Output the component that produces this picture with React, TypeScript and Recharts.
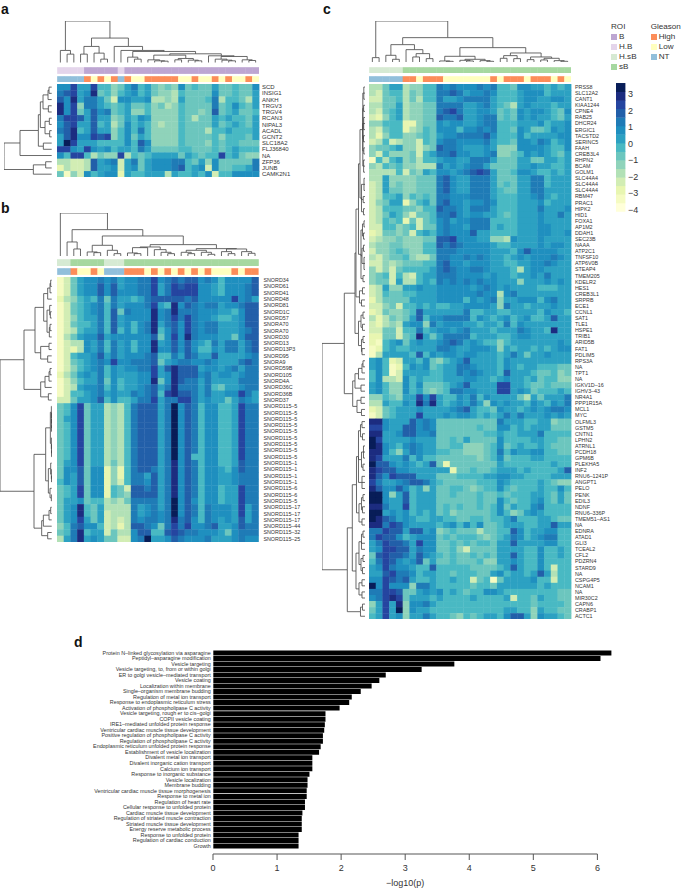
import { BarChart, Bar, ScatterChart, Scatter, XAxis, YAxis } from "recharts";

// colour steps of the heatmaps, lowest to highest (one per level char 0-e)
const heatColors = ["#ffffd9", "#f5fbc2", "#e8f6b1", "#d2edb4", "#b2e1b6", "#8fd3ba", "#6cc6be", "#49b9c3", "#2ca1c2", "#1f8fbf", "#1f7bb6", "#225fa9", "#2545a0", "#1c2c80", "#081d58"];
const LEVELS = "0123456789abcde";

const roiColors: Record<string, string> = { B: "#bda6d2", HB: "#e4d5eb", HsB: "#d6ead3", sB: "#a6d8a0" };
const gleasonColors: Record<string, string> = { High: "#fc8d59", Low: "#ffffbf", NT: "#91bfdb" };

// each row: 30 level chars, spaces only group them by ten
const rowsA = [
  "99c88c7756 8a78656596 7668667669",
  "abc89d6757 8978655476 6669667668",
  "b9d8aa8639 9889445486 667a477648",
  "d9c5aa8767 8667564576 666a679768",
  "d9c68b9a67 8557555576 656b678667",
  "accb8b8856 8798555576 4668787768",
  "9bc88b7846 9787545576 6668678768",
  "abd78b8857 97a7555576 6647787778",
  "8bd99cbc57 9687555576 6667577768",
  "8ec8887777 97b9555576 6657677666",
  "cc98c98978 87a8666677 6667678777",
  "97cc74655c 4767888868 7677c78655",
  "44334b89a3 8a68999aa7 685966666a",
  "24334b8893 8968999ab7 893966778a",
  "6153978992 8778884877 8793779999",
];
const labelsA = ["SCD", "INSIG1", "ANKH", "TRGV3", "TRGV4", "RCAN3", "NIPAL3", "ACADL", "GCNT2", "SLC18A2", "FLJ36840", "NA", "ZFP36", "JUNB", "CAMK2N1"];
const roiA = ["HB", "HB", "HB", "HB", "B", "B", "B", "B", "B", "HB", ...Array(20).fill("B")];
const gleasonA = ["NT", "NT", "NT", "NT", "High", "Low", "High", "Low", "High", "NT", "High", "Low", "Low", "High", "High", "High", "High", "High", "Low", "Low", "High", "Low", "Low", "High", "Low", "High", "Low", "Low", "High", "Low"];

const rowsB = [
  "136899a9a8 99aac9abab b9a979999b",
  "136899b9b8 99aac8acbc c9987999ab",
  "136899b9b9 99aac8accc c9987999ab",
  "245787a6a8 878abbbbba b99999c9a8",
  "136789a7a8 999ac87d9b a9aa899abb",
  "136789a7b6 a999d9adaa a9998879bb",
  "135788a7b8 9999d9acac a9987789bb",
  "136778a7b8 979ad8ab9c a9aa8889bb",
  "134788a7b7 979ad79b9c a9aa8889ab",
  "146899b899 9999b69c9d a9998869bb",
  "134498a7a8 9799d89b9b 987a8aa8ab",
  "132498a7a8 9799d99b9b 97798aa8ab",
  "137889b8a8 999ab77a8b a88b88889a",
  "136789a9c9 9aaab689aa 99a9888aba",
  "135789a798 99aac8bdbb b89989a8aa",
  "246898a798 8899c89dbb b9a89989aa",
  "135788a697 8899d69dba a8a8888aaa",
  "134899a797 889ab8adaa a8a76889aa",
  "137789a898 8a9ab7cdbb a8a8899ca8",
  "336889b797 78aac8aacc a898868a98",
  "679c688454 7abbb8ae9b a799778caa",
  "679c688454 7abbb8ae9b a799778caa",
  "689c688454 7abbb8ae9b a799778caa",
  "679c688454 7abbb8ae9b a799778caa",
  "679c688454 7abbb8ae9b a799778caa",
  "679c688454 7abbb8ae9b a799778caa",
  "679c688454 7abbb8ae9b a799778caa",
  "679c688454 7abbb8ae9b a799778caa",
  "679c688454 7abbb8ae9b 7799778caa",
  "689c688464 7abbb8ad9b a799778baa",
  "699b699252 7abba8ad9b a799879baa",
  "698b699252 7aa8b8ad9b a799889aaa",
  "798b699253 7aa9b8ad9b a799889aaa",
  "678c699276 3bbab8ad9b a799788caa",
  "678c699276 5bbbb8ad9b a799788caa",
  "6889677454 6aaaa8ae9b 9799788caa",
  "689d768444 4a89a8ae9b a7a9998c8a",
  "689d768344 4a89a9ae9b a7a9998c8a",
  "689c868343 4a9aa9adab 97a9898b8a",
  "57ab997342 4bba96acac 99ab889baa",
  "67ad788364 49bb77bcba a999869aaa",
  "48ad898663 39ae889ba9 99a8889a99",
];
const labelsB = ["SNORD34", "SNORD61", "SNORD41", "SNORD48", "SNORD81", "SNORD1C", "SNORD57", "SNORA70", "SNORA70", "SNORD30", "SNORD13", "SNORD13P3", "SNORD95", "SNORA9", "SNORD59B", "SNORD105", "SNORD4A", "SNORD36C", "SNORD36B", "SNORD37", "SNORD115–5", "SNORD115–5", "SNORD115–5", "SNORD115–5", "SNORD115–5", "SNORD115–5", "SNORD115–5", "SNORD115–5", "SNORD115–5", "SNORD115–1", "SNORD115–1", "SNORD115–1", "SNORD115–1", "SNORD115–6", "SNORD115–6", "SNORD115–5", "SNORD115–17", "SNORD115–17", "SNORD115–17", "SNORD115–44", "SNORD115–32", "SNORD115–25"];
const roiB = ["HsB", "HsB", "sB", "sB", "sB", "sB", "sB", "HsB", "HsB", "HsB", ...Array(20).fill("sB")];
const gleasonB = ["NT", "NT", "High", "Low", "Low", "High", "Low", "NT", "NT", "NT", "High", "High", "High", "Low", "High", "Low", "High", "Low", "High", "Low", "High", "Low", "High", "Low", "Low", "Low", "High", "Low", "High", "High"];

const rowsC = [
  "4468845577 a9a999a9a7 7699887878",
  "4367746577 aaba899a97 7789997888",
  "3366746477 a889aaaa87 7789988998",
  "4466845566 aaaa889a87 6489888788",
  "4367845566 abca889986 7698998769",
  "3257845566 baab889aa6 7698988768",
  "5577722566 9899889aa7 7788897889",
  "4367724576 999799a9a7 7698667989",
  "4257755676 899aaaab97 7797888899",
  "3473455376 9aa9999a87 76998a9789",
  "5667855356 baa9888985 5599998779",
  "5375556378 aab99889a5 5679898768",
  "1747856477 89988aaa86 6688668878",
  "5476755444 a8989aa866 6688988778",
  "4444736587 9989abcb86 6799877878",
  "4485555666 ab988aaa86 6688aa7888",
  "3485655666 ab988aaa86 7688aa7888",
  "3486655666 ab988aaa87 6688aa8888",
  "3477857676 aa999aaa87 77889a8788",
  "3568825786 ab99899a97 7788897888",
  "3477766577 baa98aaa87 77888a8889",
  "3468753667 aab9899887 67888988a8",
  "3476726367 9a899aaa77 7788898888",
  "3377567366 9a998aaa78 7788899888",
  "2366563787 9a999b8877 7788899889",
  "3455655566 bbc9998855 4988898888",
  "4556655577 baba999987 7888898998",
  "3556765577 aaa9999988 879b999988",
  "4356675446 aa99a9a988 7898999a98",
  "3354566677 ab99899988 778899a988",
  "5353677778 aba99aa988 8748998888",
  "5673743788 aaa9999898 878898a888",
  "5663844787 a9a9a9a998 8858889898",
  "3485588988 9999989a98 9888877788",
  "3476677888 999999a994 9a88888888",
  "2466668888 99997989a5 8899979a88",
  "3356377878 7788999985 a887888988",
  "2365567b88 8888a77887 7888879887",
  "4246568b79 9aaaa79878 9789778b88",
  "324548995a 8999887887 a798888888",
  "3366377a78 9989a88878 88a9887d88",
  "2266367d86 8aaaa78887 7899888888",
  "2178968988 9aba898775 7888888898",
  "1278778888 aa98899985 8788787899",
  "1488887b79 8998998887 8a86889888",
  "8972388796 5789b88887 9888888888",
  "8971279896 788aa98887 9878877766",
  "7971388887 788a9a9887 b888766756",
  "7944397877 7888998878 9887867755",
  "8975597966 6789b8888c c887667666",
  "8975597865 67aa99888c c898677787",
  "5576588c9c 87798a7988 886486888a",
  "4487798dad 87898a8598 988798798a",
  "2367888988 889ab87769 8878989aa9",
  "1367888c88 8989987878 a8a8889898",
  "dd9888b9a9 666666666a 8887788566",
  "cc988bb9a9 6666667669 9787888666",
  "dd889bb99a 6666666778 77888a7777",
  "ec88889888 6676866669 7777887766",
  "ed9879a988 6677555679 6787787666",
  "dd9758a988 776655567a 7988997766",
  "dc888a7977 6666665679 6777887777",
  "ebb989878b 6266666668 7777777877",
  "dcbb998888 8826676678 887877778b",
  "db9cbbb888 6667777889 9887777888",
  "ca889abba8 7666667779 8777787655",
  "db99b97858 6677656779 7677787797",
  "ee958b7888 6676667667 6777887686",
  "ee988b7888 6666667669 7677897686",
  "dda88c7888 6767667679 68779a7777",
  "ee89897878 6756666679 7568987777",
  "edba898778 8776677677 8a77788766",
  "ddacb98888 7897979667 8887788b88",
  "aacbb8bb89 5676664667 7b97889977",
  "acbb978999 6767776567 8a9789aa77",
  "8acbba8c99 6676767768 8b88889977",
  "89ccbb8a99 6675366668 8887797787",
  "6bcbba8b98 7676676768 8b87797787",
  "7acb989b68 6676667558 8987797777",
  "89ca99877b 7777766667 8b87797377",
  "88bcaa9788 7767776689 78878b8477",
  "99cbab8778 7787736716 8888977377",
  "e9c9995aa8 7777767768 8888878777",
  "aaccb66898 9787677998 7777777766",
  "9acdc68887 8777787777 8377687766",
  "58c8d599a8 7777777777 7777677776",
  "68c8e59887 7777777777 8877587766",
  "78c89588a8 7765767887 9bb8598876",
];
const labelsC = ["PRSS8", "SLC12A2", "CANT1", "KIAA1244", "CPNE4", "RAB25", "DHCR24", "ERGIC1", "TACSTD2", "SERINC5", "FAAH", "CREB3L4", "RHPN2", "BCAM", "GOLM1", "SLC44A4", "SLC44A4", "SLC44A4", "RBM47", "PRAC1", "HIPK2", "HID1", "FOXA1", "AP1M2", "DDAH1", "SEC23B", "NAAA", "ATP2C1", "TNFSF10", "ATP6V0B", "STEAP4", "TMEM205", "KDELR2", "HES1", "CREB3L1", "SRPRB", "ECE1", "CCNL1", "SAT1", "TLE1", "HSPE1", "TRIB1", "ARID5B", "FAT1", "PDLIM5", "RPS3A", "NA", "TPT1", "NA", "IGKV1D–16", "IGHV3–43", "NR4A1", "PPP1R15A", "MCL1", "MYC", "OLFML3", "GSTM5", "CNTN1", "LPHN2", "ATRNL1", "PCDH18", "GPM6B", "PLEKHA5", "INF2", "RNU6–1241P", "ANGPT1", "PELO", "PENK", "EDIL3", "NDNF", "RNU6–336P", "TMEM51–AS1", "NA", "EDNRA", "ATAD1", "GLI3", "TCEAL2", "CFL2", "PDZRN4", "STARD9", "NA", "CSPG4P5", "NCAM1", "NA", "MIR30C2", "CAPN6", "CRABP1", "ACTC1"];
const roiC = [...Array(5).fill("HsB"), ...Array(25).fill("sB")];
const gleasonC = ["NT", "NT", "NT", "NT", "NT", "High", "High", "Low", "High", "High", "High", "Low", "Low", "Low", "Low", "Low", "Low", "Low", "High", "Low", "High", "High", "High", "Low", "High", "High", "High", "Low", "High", "Low"];

// dendrograms: [merge height, ...children], 0 is a leaf
type Tree = 0 | [number, ...any[]];

const topA: Tree = [124,
  [36, 0, [25, 0, 0]],
  [73,
    [48, [25, 0, 0], [28, 0, [10, 0, 0]]],
    [48, 0, [36, 0, [33, [16, 0, [10, 0, 0]],
      [26,
        [22, [8, 0, [5, 0, [4, 0, 0]]], [12, [8, 0, 0], [7, 0, [5, 0, 0]]]],
        [20, 0, [18, [10, 0, [7, 0, [5, 0, 0]]], [8, 0, [6, 0, 0]]]],
      ]]]],
  ]];
const leftA: Tree = [143,
  [95,
    [40,
      [34, [26, [11, [8, 0, 0], 0], [10, 0, 0]], [20, [7, 0, 0], [6, 0, 0]]],
      [25, 0, 0]],
    0],
  [55, [18, 0, 0], 0]];

const topB: Tree = [130, 0,
  [80,
    [43, 0, [22, 0, 0]],
    [61,
      [33, [13, 0, [11, 0, 0]], [18, 0, [8, 0, 0]]],
      [35,
        [28, [26, [10, 0, [8, 0, 0]], 0], [20, 0, [12, 0, [8, 0, 0]]]],
        [23, [18, [12, 0, [8, 0, 0]], [12, 0, [6, 0, 0]]], [22, [14, 0, [8, 0, 0]], [14, 0, [9, 0, 0]]]],
      ]],
  ]];
const leftB: Tree = [155,
  [83,
    [50,
      [24, [12, [5, [3, 0, 0], 0], 0], [14, [6, 0, [4, 0, 0]], [7, [5, 0, 0], 0]]],
      [33, [8, 0, 0], [12, 0, 0]]],
    [33, [20, [8, [5, 0, 0], 0], 0], [10, 0, 0]]],
  [53,
    [18,
      [4, [1, 0, [0.6, 0, [0.5, 0, [0.4, 0, 0]]]], [1, 0, [0.6, 0, [0.5, 0, 0]]]],
      [10, [3, 0, [1, 0, [0.5, 0, 0]]], [5, 0, [1, 0, 0]]]],
    [30, [25, [8, [3, 0, 0], 0], 0], [12, 0, 0]]]];

const topC: Tree = [124,
  [14, 0, 0],
  [74,
    [53, [21, 0, [9, 0, 0]], [38, 0, [26, [16, 0, 0], [11, 0, 0]]]],
    [44,
      [18, [4, 0, [3, 0, 0]], [9, [6, 0, [4, 0, 0]], [5, 0, [3, 0, 0]]]],
      [28, [20, [12, 0, 0], [11, 0, 0]], [16, [8, 0, 0], [12, [7, 0, 0], [5, 0, [3, 0, 0]]]]]],
  ]];
const clusterC0: Tree = [2.2, [1.2, 0, 0, 0], [1.4, 0, 0], [1.3, 0, 0, 0], [1.5, 0, 0], [1.2, 0, 0], [1.4, 0, 0, 0]];
const clusterC1: Tree = [3.5, [1, 0, 0, 0], [1.8, 0, 0], [1.5, 0, 0]];
const clusterC2: Tree = [4, [2.5, [1, 0, 0], [1.5, 0, 0]], [3, [1.5, 0, 0], [1, 0, 0, 0]], [2, 0, 0]];
const leftC: Tree = [43,
  [20.7,
    [10,
      [9, [6.5, [5, clusterC0, clusterC1], clusterC2], [5.5, [2.5, 0, 0], [3.5, 0, 0]]],
      [6.5, [4, [2, 0, 0], [2.5, 0, 0]], [3.5, [2, 0, 0], [3, 0, 0]]]],
    [12.3,
      [10, [6.5, [3, [2, 0, 0], 0], 0], [4, 0, 0]],
      [8, [4, 0, 0], [3.5, 0, 0]]]],
  [17.7,
    [12.7,
      [8.5,
        [6.5, [4.5, [3, 0, 0], [2.5, 0, 0]], [3.5, [1.5, 0, 0, 0], [2, 0, 0]], [3, 0, 0, 0]],
        [6, [3.5, [2, 0, 0], [2.5, 0, 0]], [3, 0, 0]]],
      [9,
        [6, [3.5, [2, 0, 0], 0, 0], [4, [2, 0, 0], [2.5, 0, 0]]],
        [6, [3, 0, 0], [3, 0, 0]]]],
    [4.5, [2.5, 0, 0], 0]]];

const terms = ["Protein N–linked glycosylation via asparagine", "Peptidyl–asparagine modification", "Vesicle targeting", "Vesicle targeting, to, from or within golgi", "ER to golgi vesicle–mediated transport", "Vesicle coating", "Localization within membrane", "Single–organism membrane budding", "Regulation of metal ion transport", "Response to endoplasmic reticulum stress", "Activation of phospholipase C activity", "Vesicle targeting, rough er to cis–golgi", "COPII vesicle coating", "IRE1–mediated unfolded protein response", "Ventricular cardiac muscle tissue development", "Positive regulation of phospholipase C activity", "Regulation of phospholipase C activity", "Endoplasmic reticulum unfolded protein response", "Establishment of vesicle localization", "Divalent metal ion transport", "Divalent inorganic cation transport", "Calcium ion transport", "Response to inorganic substance", "Vesicle localization", "Membrane budding", "Ventricular cardiac muscle tissue morphogenesis", "Response to metal ion", "Regulation of heart rate", "Cellular response to unfolded protein", "Cardiac muscle tissue development", "Regulation of striated muscle contraction", "Striated muscle tissue development", "Energy reserve metabolic process", "Response to unfolded protein", "Regulation of cardiac conduction", "Growth"];
const logP = [6.21, 6.04, 3.76, 3.25, 2.69, 2.59, 2.47, 2.3, 2.16, 2.12, 1.97, 1.75, 1.75, 1.74, 1.73, 1.71, 1.71, 1.675, 1.65, 1.545, 1.545, 1.545, 1.5, 1.47, 1.47, 1.457, 1.457, 1.43, 1.43, 1.39, 1.38, 1.38, 1.38, 1.33, 1.33, 1.33];
const logPTicks = [0, 1, 2, 3, 4, 5, 6];

const scaleBands = [-3.84, -3.33, -2.81, -2.29, -1.78, -1.26, -0.74, -0.23, 0.29, 0.81, 1.32, 1.84, 2.36, 2.87, 3.39];
const scaleTicks = [-4, -3, -2, -1, 0, 1, 2, 3];

const roiLegend = [["B", "B"], ["H.B", "HB"], ["H.sB", "HsB"], ["sB", "sB"]];
const gleasonLegend = [["High", "High"], ["Low", "Low"], ["NT", "NT"]];

const TEXT = "#333";
const FONT = "'Liberation Sans', Arial, sans-serif";

const cellShape = (w: number, h: number) => (p: any) => (
  <rect x={p.cx - w / 2} y={p.cy - h / 2} width={w + 0.4} height={h + 0.4} fill={p.payload.fill} />
);

const noDot = () => null;

function linkPaths(node: Tree, seq = { n: 0 }, out: { pos: number; h: number }[][] = []) {
  if (node === 0) return { pos: seq.n++ + 0.5, h: 0, out };
  const kids = node.slice(1).map((k: Tree) => linkPaths(k, seq, out));
  const center = (kids[0].pos + kids[kids.length - 1].pos) / 2;
  kids.forEach((k: { pos: number; h: number }) => {
    out.push([{ pos: k.pos, h: k.h }, { pos: k.pos, h: node[0] }, { pos: center, h: node[0] }]);
  });
  return { pos: center, h: node[0], out };
}

const Dendrogram = ({ tree, count, side, x, y, width, height }: any) => {
  const { out } = linkPaths(tree);
  const top = side === "top";
  const maxH = tree[0];
  return (
    <div style={{ position: "absolute", left: x, top: y }}>
      <ScatterChart width={width} height={height} margin={{ top: 0, right: 0, bottom: 0, left: 0 }}>
        <XAxis type="number" dataKey="x" hide domain={top ? [0, count] : [0, maxH]} reversed={!top} />
        <YAxis type="number" dataKey="y" hide domain={top ? [0, maxH] : [0, count]} reversed={!top} />
        {out.map((path, i) => (
          <Scatter
            key={i}
            data={path.map((p) => (top ? { x: p.pos, y: p.h } : { x: p.h, y: p.pos }))}
            line={{ stroke: "#444", strokeWidth: 0.8 }}
            shape={noDot}
            isAnimationActive={false}
          />
        ))}
      </ScatterChart>
    </div>
  );
};

const Strip = ({ values, colors, x, y, width, height }: any) => {
  const data = values.map((v: string, i: number) => ({ x: i + 0.5, y: 0.5, fill: colors[v] }));
  return (
    <div style={{ position: "absolute", left: x, top: y }}>
      <ScatterChart width={width} height={height} margin={{ top: 0, right: 0, bottom: 0, left: 0 }}>
        <XAxis type="number" dataKey="x" hide domain={[0, values.length]} />
        <YAxis type="number" dataKey="y" hide domain={[0, 1]} />
        <Scatter data={data} shape={cellShape(width / values.length, height - 0.4)} isAnimationActive={false} />
      </ScatterChart>
    </div>
  );
};

const Heatmap = ({ rows, labels, x, y, width, height, labelWidth, fontSize, labelGap }: any) => {
  const parsed: string[] = rows.map((r: string) => r.replace(/ /g, ""));
  const data = parsed.flatMap((r, j) =>
    r.split("").map((ch, i) => ({ x: i + 0.5, y: j + 0.5, level: LEVELS.indexOf(ch), fill: heatColors[LEVELS.indexOf(ch)] })),
  );
  return (
    <div style={{ position: "absolute", left: x, top: y }}>
      <ScatterChart width={width + labelWidth} height={height} margin={{ top: 0, right: 0, bottom: 0, left: 0 }}>
        <XAxis type="number" dataKey="x" hide domain={[0, 30]} />
        <YAxis
          type="number"
          dataKey="y"
          orientation="right"
          reversed
          domain={[0, rows.length]}
          ticks={labels.map((_: string, i: number) => i + 0.5)}
          tickFormatter={(v: number) => labels[v - 0.5]}
          interval={0}
          width={labelWidth}
          axisLine={false}
          tickLine={false}
          tickSize={0}
          tickMargin={labelGap}
          tick={{ fontSize, fill: TEXT }}
        />
        <Scatter data={data} shape={cellShape(width / 30, height / rows.length)} isAnimationActive={false} />
      </ScatterChart>
    </div>
  );
};

const ColorScale = () => {
  const data = scaleBands.map((v, i) => ({ x: 0.5, y: v, fill: heatColors[i] }));
  return (
    <div style={{ position: "absolute", left: 616, top: 75.3 }}>
      <ScatterChart width={34} height={144.4} margin={{ top: 8, right: 0, bottom: 8, left: 0 }}>
        <XAxis type="number" dataKey="x" hide domain={[0, 1]} />
        <YAxis
          type="number"
          dataKey="y"
          orientation="right"
          domain={[-4.1, 3.65]}
          ticks={scaleTicks}
          interval={0}
          width={25}
          axisLine={false}
          tickLine={false}
          tickSize={0}
          tickMargin={3}
          tickFormatter={(v: number) => String(v).replace("-", "−")}
          tick={{ fontSize: 9, fill: TEXT }}
        />
        <Scatter data={data} shape={cellShape(9, 128.4 / 15)} isAnimationActive={false} />
      </ScatterChart>
    </div>
  );
};

const PanelLetter = ({ children, x, y }: any) => (
  <div style={{ position: "absolute", left: x, top: y, fontSize: 14, fontWeight: 700, lineHeight: "14px", color: "#111" }}>{children}</div>
);

const LegendBlock = ({ title, items, colors, x, y }: any) => (
  <div style={{ position: "absolute", left: x, top: y, fontSize: 8.1, lineHeight: "10px", color: TEXT }}>
    <div style={{ marginBottom: 0 }}>{title}</div>
    {items.map(([name, key]: string[]) => (
      <div key={name} style={{ display: "flex", alignItems: "center", height: 10 }}>
        <span style={{ width: 6, height: 6, background: colors[key], marginRight: 2 }} />
        {name}
      </div>
    ))}
  </div>
);

// plain tick so long terms stay on one line
const TermTick = ({ x, y, payload }: any) => (
  <text x={x} y={y} dy={1.9} textAnchor="end" fontSize={5.4} fill={TEXT}>
    {payload.value}
  </text>
);

const EnrichmentBars = () => {
  const data = terms.map((term, i) => ({ term, value: logP[i] }));
  return (
    <>
      <div style={{ position: "absolute", left: 0, top: 650.2 }}>
        <BarChart layout="vertical" width={630} height={198.6} data={data} margin={{ top: 0, right: 0, bottom: 0, left: 0 }} barCategoryGap={0.45}>
          <XAxis type="number" hide domain={[0, 6.5]} />
          <YAxis
            type="category"
            dataKey="term"
            width={213.3}
            interval={0}
            axisLine={false}
            tickLine={false}
            tickSize={0}
            tickMargin={2.5}
            tick={TermTick}
          />
          <Bar dataKey="value" fill="#000" isAnimationActive={false} />
        </BarChart>
      </div>
      <div style={{ position: "absolute", left: 203.3, top: 848 }}>
        <ScatterChart width={404.4} height={40} margin={{ top: 0, right: 10, bottom: 0, left: 10 }}>
          <XAxis
            type="number"
            dataKey="x"
            domain={[0, 6]}
            ticks={logPTicks}
            interval={0}
            height={34}
            tickSize={6}
            tickMargin={5}
            stroke="#555"
            tick={{ fontSize: 9, fill: TEXT }}
            label={{ value: "−log10(p)", position: "insideBottom", offset: 2, fontSize: 9, fill: TEXT }}
          />
          <YAxis type="number" dataKey="y" hide domain={[0, 1]} />
          <Scatter data={logPTicks.map((x) => ({ x, y: 0 }))} shape={noDot} isAnimationActive={false} />
        </ScatterChart>
      </div>
    </>
  );
};

export default function App() {
  return (
    <div style={{ position: "absolute", left: 0, top: 0, width: 685, height: 888, background: "#fff", overflow: "hidden", fontFamily: FONT }}>
      <PanelLetter x={1} y={2}>a</PanelLetter>
      <PanelLetter x={1} y={201}>b</PanelLetter>
      <PanelLetter x={323} y={2}>c</PanelLetter>
      <PanelLetter x={74} y={635}>d</PanelLetter>

      <Dendrogram tree={topA} count={30} side="top" x={56.7} y={21} width={202} height={41.5} />
      <Strip values={roiA} colors={roiColors} x={56.7} y={67} width={202} height={6.7} />
      <Strip values={gleasonA} colors={gleasonColors} x={56.7} y={75.7} width={202} height={6.4} />
      <Dendrogram tree={leftA} count={15} side="left" x={4} y={84} width={47.7} height={93.3} />
      <Heatmap rows={rowsA} labels={labelsA} x={56.7} y={84} width={202} height={93.3} labelWidth={45} fontSize={6} labelGap={3} />

      <Dendrogram tree={topB} count={30} side="top" x={57.3} y={212.7} width={201.4} height={43.3} />
      <Strip values={roiB} colors={roiColors} x={57.3} y={259.3} width={201.4} height={7} />
      <Strip values={gleasonB} colors={gleasonColors} x={57.3} y={268.3} width={201.4} height={6.7} />
      <Dendrogram tree={leftB} count={42} side="left" x={0} y={277.3} width={51.7} height={265} />
      <Heatmap rows={rowsB} labels={labelsB} x={57.3} y={277.3} width={201.4} height={265} labelWidth={50} fontSize={5.4} labelGap={5} />

      <Dendrogram tree={topC} count={30} side="top" x={369.3} y={20.7} width={202} height={41.3} />
      <Strip values={roiC} colors={roiColors} x={369.3} y={66.7} width={202} height={6.7} />
      <Strip values={gleasonC} colors={gleasonColors} x={369.3} y={75.7} width={202} height={6.5} />
      <Dendrogram tree={leftC} count={88} side="left" x={322} y={84} width={43} height={535.3} />
      <Heatmap rows={rowsC} labels={labelsC} x={369.3} y={84} width={202} height={535.3} labelWidth={42} fontSize={5.4} labelGap={4} />

      <LegendBlock title="ROI" items={roiLegend} colors={roiColors} x={611} y={22} />
      <LegendBlock title="Gleason" items={gleasonLegend} colors={gleasonColors} x={650.7} y={22} />
      <ColorScale />

      <EnrichmentBars />
    </div>
  );
}
